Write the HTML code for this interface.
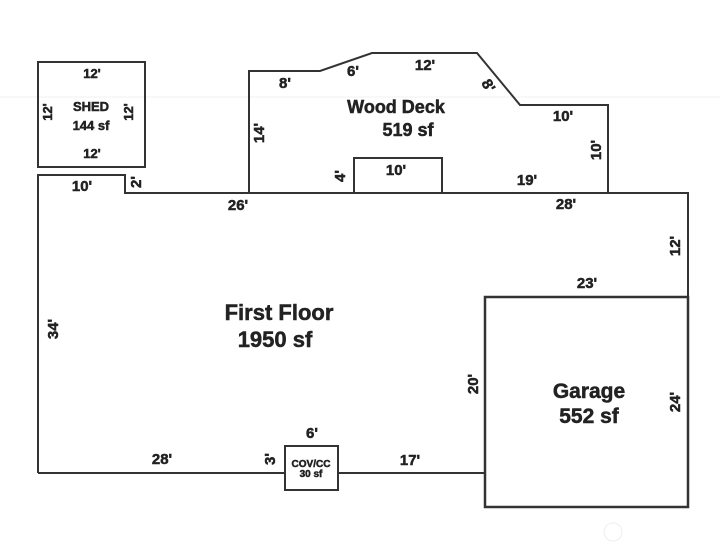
<!DOCTYPE html>
<html><head><style>html,body{margin:0;padding:0;background:#fff}svg{display:block}text{font-family:"Liberation Sans",Arial,sans-serif;font-weight:bold;fill:#222;stroke:#222;stroke-width:0.5}</style></head>
<body>
<svg width="720" height="556" viewBox="0 0 720 556" xmlns="http://www.w3.org/2000/svg">
<line x1="0" y1="97" x2="720" y2="97" stroke="#f0f0f0" stroke-width="1"/>
<g fill="none" stroke="#333" stroke-width="2">
<rect x="38" y="62" width="107" height="105"/>
<polyline points="38,473 38,175 125,175 125,193 688,193 688,297"/>
<polyline points="38,473 285,473"/>
<polyline points="338,473 485,473"/>
<polyline points="249,193 249,71 320,71 372,53 477,53 520,105 608,105 608,193"/>
<polyline points="354,193 354,158 442,158 442,193"/>
<rect x="485" y="297" width="203" height="210" stroke-width="2.5"/>
<rect x="285" y="446" width="53" height="44"/>
</g>
<g font-size="13" text-anchor="middle" style="stroke-width:0.2">
<text x="92" y="78" font-weight="normal">12'</text>
<text x="92" y="158" font-weight="normal">12'</text>
<text x="91" y="111" font-weight="normal">SHED</text>
<text x="91" y="130" font-weight="normal">144 sf</text>
<text transform="translate(52,112) rotate(-90)" font-weight="normal">12'</text>
<text transform="translate(133,112) rotate(-90)" font-weight="normal">12'</text>
</g>
<g font-size="15" text-anchor="middle">
<text x="82" y="191">10'</text>
<text transform="translate(141,182) rotate(-90)">2'</text>
<text x="238" y="210">26'</text>
<text x="285" y="88">8'</text>
<text x="353" y="76">6'</text>
<text x="425" y="70">12'</text>
<text transform="translate(484,88) rotate(60)">8'</text>
<text x="563" y="121">10'</text>
<text transform="translate(601,150) rotate(-90)">10'</text>
<text transform="translate(264,133) rotate(-90)">14'</text>
<text transform="translate(345,176) rotate(-90)">4'</text>
<text x="396" y="175">10'</text>
<text x="527" y="185">19'</text>
<text x="566" y="209">28'</text>
<text transform="translate(680,246) rotate(-90)">12'</text>
<text x="587" y="288">23'</text>
<text transform="translate(58,329) rotate(-90)">34'</text>
<text transform="translate(478,384) rotate(-90)">20'</text>
<text transform="translate(680,402) rotate(-90)">24'</text>
<text x="162" y="464">28'</text>
<text transform="translate(275,459) rotate(-90)">3'</text>
<text x="312" y="438">6'</text>
<text x="410" y="465">17'</text>
</g>
<g font-size="10" text-anchor="middle" style="stroke-width:0.2"><text x="311" y="467">COV/CC</text><text x="311" y="477">30 sf</text></g>
<g text-anchor="middle" style="stroke-width:0.8">
<text x="396" y="113" font-size="18">Wood Deck</text>
<text x="408" y="136" font-size="18">519 sf</text>
<text x="279" y="320" font-size="22">First Floor</text>
<text x="275" y="347" font-size="22">1950 sf</text>
<text x="589" y="398" font-size="21">Garage</text>
<text x="589" y="423" font-size="21">552 sf</text>
</g>
<circle cx="613" cy="532" r="9" fill="none" stroke="#eee"/>
</svg>
</body></html>
